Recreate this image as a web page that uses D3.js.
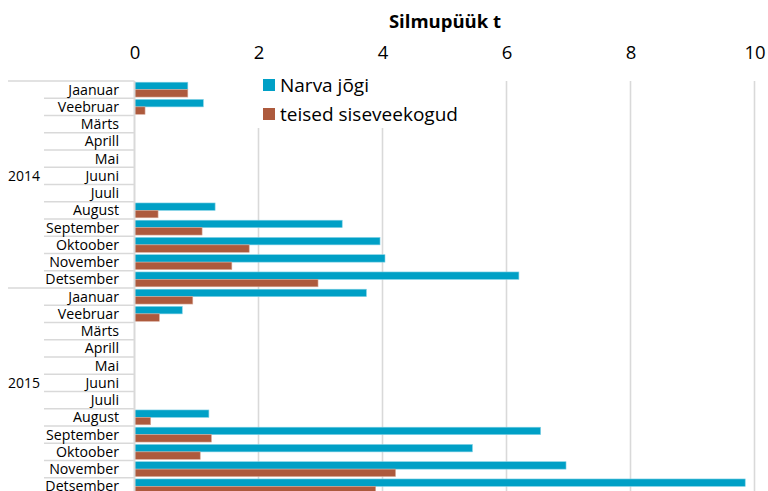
<!DOCTYPE html>
<html>
<head>
<meta charset="utf-8">
<script src="https://cdn.jsdelivr.net/npm/d3@7"></script>
<style>
  html, body { margin: 0; padding: 0; background: #fff; }
  svg { display: block; font-family: "Open Sans", "Noto Sans", sans-serif; }
</style>
</head>
<body>
<svg id="chart" width="768" height="491"></svg>
<script>
// Monthly catch of smelt (tonnes), 2014–2015
const years = ["2014", "2015"];
const months = ["Jaanuar", "Veebruar", "Märts", "Aprill", "Mai", "Juuni",
                "Juuli", "August", "September", "Oktoober", "November", "Detsember"];
const seriesNames = ["Narva jõgi", "teised siseveekogud"];
const narva2014 = [0.86, 1.11, 0, 0, 0, 0, 0, 1.30, 3.35, 3.96, 4.04, 6.20];
const narva2015 = [3.74, 0.77, 0, 0, 0, 0, 0, 1.20, 6.55, 5.45, 6.96, 9.85];
const teised2014 = [0.86, 0.17, 0, 0, 0, 0, 0, 0.38, 1.09, 1.85, 1.57, 2.96];
const teised2015 = [0.94, 0.40, 0, 0, 0, 0, 0, 0.26, 1.24, 1.06, 4.21, 3.89];
const xTicks = [0, 2, 4, 6, 8, 10];
const colors = ["#00a0c6", "#ad5a3d"];

const rows = [];
years.forEach((yr, yi) => {
  months.forEach((m, mi) => {
    rows.push({
      key: yr + "-" + m, year: yr, month: m, mi,
      values: yi === 0 ? [narva2014[mi], teised2014[mi]] : [narva2015[mi], teised2015[mi]]
    });
  });
});

const svg = d3.select("#chart");
const plotLeft = 134.5, plotRight = 754.5, plotTop = 81, rowH = 17.25;
const plotBottom = plotTop + rowH * rows.length;

const x = d3.scaleLinear().domain([0, 10]).range([plotLeft, plotRight]);
const y = d3.scaleBand().domain(rows.map(r => r.key)).range([plotTop, plotBottom]).paddingInner(0.14).paddingOuter(0.07);
const ySub = d3.scaleBand().domain([0, 1]).range([0, y.bandwidth()]);

// Title
svg.append("text")
  .attr("x", 445).attr("y", 28)
  .attr("text-anchor", "middle")
  .attr("font-size", 18.5).attr("font-weight", "bold").attr("fill", "#000")
  .text("Silmupüük t");

// Vertical gridlines
svg.append("g").selectAll("line").data(xTicks.filter(t => t > 0)).join("line")
  .attr("x1", d => x(d)).attr("x2", d => x(d))
  .attr("y1", plotTop).attr("y2", 491)
  .attr("stroke", "#d9d9d9").attr("stroke-width", 1.6);

// Top axis labels
const xAxis = d3.axisTop(x).tickValues(xTicks).tickSize(0).tickPadding(0).tickFormat(d3.format("d"));
const gx = svg.append("g").attr("transform", `translate(0,59)`).call(xAxis);
gx.select(".domain").remove();
gx.selectAll("text").attr("font-size", 18.5).attr("fill", "#000")
  .attr("font-family", "\"Open Sans\", \"Noto Sans\", sans-serif");

// Bars
const groups = svg.append("g").selectAll("g").data(rows).join("g")
  .attr("transform", d => `translate(0,${y(d.key)})`);
groups.selectAll("rect").data(d => d.values.map((v, i) => ({ v, i })).filter(e => e.v > 0)).join("rect")
  .attr("x", x(0))
  .attr("y", e => ySub(e.i))
  .attr("width", e => x(e.v) - x(0))
  .attr("height", ySub.bandwidth())
  .attr("fill", e => colors[e.i])
  .attr("stroke", e => e.i === 0 ? "#7fd0e4" : "#d6a897")
  .attr("stroke-width", 0.6);

// Category axis: row separators, month labels, year labels
const sep = svg.append("g");
rows.forEach((r, i) => {
  const yy = plotTop + i * rowH;
  sep.append("line")
    .attr("x1", r.mi === 0 ? 8 : 44).attr("x2", plotLeft)
    .attr("y1", yy).attr("y2", yy)
    .attr("stroke", "#d9d9d9").attr("stroke-width", 1.6);
});
sep.append("line")
  .attr("x1", 8).attr("x2", plotLeft).attr("y1", plotBottom).attr("y2", plotBottom)
  .attr("stroke", "#d9d9d9").attr("stroke-width", 1.6);
sep.append("line")
  .attr("x1", plotLeft).attr("x2", plotLeft).attr("y1", plotTop).attr("y2", 491)
  .attr("stroke", "#d9d9d9").attr("stroke-width", 2);

svg.append("g").selectAll("text").data(rows).join("text")
  .attr("x", 119)
  .attr("y", d => y(d.key) + y.bandwidth() / 2)
  .attr("dy", "0.36em")
  .attr("text-anchor", "end")
  .attr("font-size", 14.2).attr("fill", "#000")
  .text(d => d.month);

svg.append("g").selectAll("text").data(years).join("text")
  .attr("x", 8)
  .attr("y", (d, i) => plotTop + (i * 12 + 5.5) * rowH)
  .attr("dy", "0.36em")
  .attr("font-size", 14).attr("fill", "#000")
  .text(d => d);

// Legend on a white panel over the gridlines
const legend = svg.append("g");
legend.append("rect").attr("x", 256).attr("y", 72).attr("width", 212).attr("height", 56).attr("fill", "#fff");
seriesNames.forEach((s, i) => {
  const ly = 85 + i * 29;
  legend.append("rect").attr("x", 263).attr("y", ly - 6).attr("width", 12).attr("height", 12).attr("fill", colors[i]);
  legend.append("text").attr("x", 280).attr("y", ly).attr("dy", "0.36em")
    .attr("font-size", 19).attr("fill", "#000").text(s);
});
</script>
</body>
</html>
